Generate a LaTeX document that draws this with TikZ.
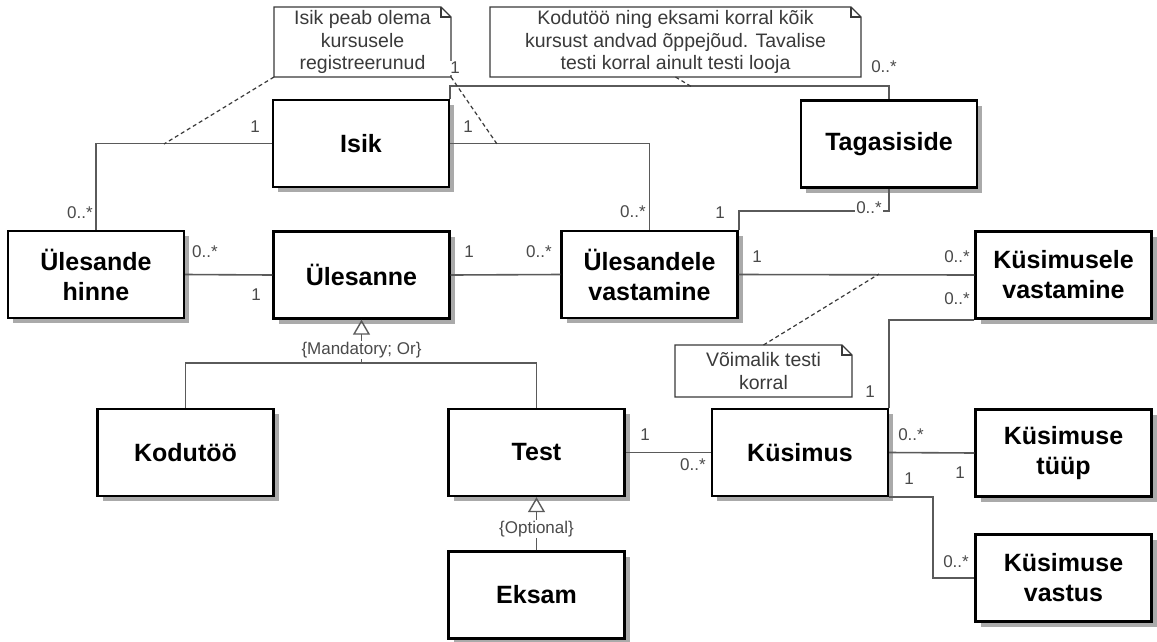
\documentclass[tikz,border=0pt]{standalone}
\usepackage{fontspec}
\setmainfont{Liberation Sans}
\usetikzlibrary{shadows,arrows.meta}
\definecolor{linec}{HTML}{5A5A5A}
\definecolor{labc}{HTML}{4A4A4A}
\definecolor{notec}{HTML}{3A3A3A}
\definecolor{shadc}{HTML}{AAAAAA}
\newcommand{\notefold}[1]{%
  \draw[noteline] (#1.south west) -- (#1.north west) -- ([xshift=-10pt]#1.north east)
     -- ([yshift=-10pt]#1.north east) -- (#1.south east) -- cycle;
  \draw[noteline] ([xshift=-10pt]#1.north east) -- ([xshift=-10pt,yshift=-10pt]#1.north east)
     -- ([yshift=-10pt]#1.north east);}
\tikzset{
  cls/.style={draw=black, line width=2.4pt, fill=white, minimum width=176pt,
    minimum height=87pt, inner sep=0pt, align=center,
    font=\fontsize{25}{30}\selectfont\bfseries,
    drop shadow={shadow xshift=5pt, shadow yshift=-5pt, fill=shadc, opacity=1}},
  note/.style={inner sep=0pt, outer sep=0pt, align=center, text=notec,
    font=\fontsize{19.5}{22.5}\selectfont},
  noteline/.style={draw=notec, line width=1.2pt, line join=miter},
  conn/.style={draw=linec, line width=1.6pt},
  notelink/.style={draw=notec, line width=1.2pt, dash pattern=on 4pt off 3pt},
  mult/.style={font=\fontsize{17}{18}\selectfont, text=labc, fill=white, inner sep=1pt},
  gen/.style={font=\fontsize{17}{18}\selectfont, text=labc, fill=white, inner sep=1pt},
  gtip/.style={-{Triangle[open, width=17pt, length=15pt, line width=1.4pt]}}
}
\begin{document}
\begin{tikzpicture}[x=1pt,y=-1pt]
\useasboundingbox (0,0) rectangle (1157,641);
\fill[white] (0,0) rectangle (1157,641);

% classes
\node[cls] (isik) at (361,143.5) {Isik};
\node[cls] (tag) at (889,144) {Tagasiside};
\node[cls] (hinne) at (96,274.5) {Ülesande\\hinne};
\node[cls] (ul) at (361.5,275) {Ülesanne};
\node[cls] (uv) at (649.5,274.5) {Ülesandele\\vastamine};
\node[cls] (kv) at (1063.5,275) {Küsimusele\\vastamine};
\node[cls] (kodu) at (185.5,452.5) {Kodutöö};
\node[cls] (test) at (536.5,452.5) {Test};
\node[cls] (kus) at (800,452.5) {Küsimus};
\node[cls] (tyyp) at (1063.5,453) {Küsimuse\\tüüp};
\node[cls] (eksam) at (536.5,595) {Eksam};
\node[cls] (vastus) at (1063.5,578) {Küsimuse\\vastus};

% notes
\node[note, minimum width=177pt, minimum height=70pt] (n1) at (362.5,42)
  {Isik peab olema\\kursusele\\registreerunud};
\node[note, minimum width=371pt, minimum height=70pt] (n2) at (675.5,42)
  {Kodutöö ning eksami korral kõik\\kursust andvad õppejõud. Tavalise\\testi korral ainult testi looja};
\node[note, minimum width=177pt, minimum height=52pt] (n3) at (763.5,371)
  {Võimalik testi\\korral};
\notefold{n1}
\notefold{n2}
\notefold{n3}

% associations
\draw[conn] (isik.west) -| (hinne.north);
\draw[conn] (isik.east) -| (uv.north);
\draw[conn] (isik.north east) -- ([yshift=13pt]isik.north east) -| (tag.north);
\draw[conn] (tag.south) -- ([yshift=-22pt]tag.south) -| (uv.north east);
\draw[conn] (hinne.east) -- (ul.west);
\draw[conn] (ul.east) -- (uv.west);
\draw[conn] (uv.east) -- (kv.west);
\draw[conn] (kv.south west) -| (kus.north east);
\draw[conn] (test.east) -- (kus.west);
\draw[conn] (kus.east) -- (tyyp.west);
\draw[conn] (kus.south east) -- ([xshift=44pt]kus.south east) |- (vastus.west);

% generalizations
\coordinate (gj) at (361.5,363);
\draw[conn] (kodu.north) |- (gj) -| (test.north);
\draw[conn, gtip] (gj) -- (ul.south);
\draw[conn, gtip] (eksam.north) -- (test.south);
\node[gen] (g1) at (361.5,350) {\{Mandatory; Or\}};
\node[gen] (g2) at (536.5,529) {\{Optional\}};

% note links
\coordinate (d1) at (164,144);
\coordinate (d2) at (497,144);
\coordinate (d3) at (692,87);
\coordinate (d4) at (879,274);
\draw[notelink] (n1.south west) -- (d1);
\draw[notelink] (n1.south east) -- (d2);
\draw[notelink] (n2.south) -- (d3);
\draw[notelink] (n3.north) -- (d4);

% multiplicities
\node[mult] (m1) at (255,127) {1};
\node[mult] (m2) at (80,213) {0..*};
\node[mult] (m3) at (468,127) {1};
\node[mult] (m4) at (633,212) {0..*};
\node[mult] (m5) at (455,68) {1};
\node[mult] (m6) at (884,67) {0..*};
\node[mult] (m7) at (720,213) {1};
\node[mult] (m8) at (869,208) {0..*};
\node[mult] (m9) at (205,252) {0..*};
\node[mult] (m10) at (256,295) {1};
\node[mult] (m11) at (469,252) {1};
\node[mult] (m12) at (539,252) {0..*};
\node[mult] (m13) at (757,257) {1};
\node[mult] (m14) at (957,257) {0..*};
\node[mult] (m15) at (957,299) {0..*};
\node[mult] (m16) at (870,392) {1};
\node[mult] (m17) at (645,435) {1};
\node[mult] (m18) at (693,465) {0..*};
\node[mult] (m19) at (911,435) {0..*};
\node[mult] (m20) at (960,473) {1};
\node[mult] (m21) at (909,479) {1};
\node[mult] (m22) at (956,562) {0..*};
\end{tikzpicture}
\end{document}
